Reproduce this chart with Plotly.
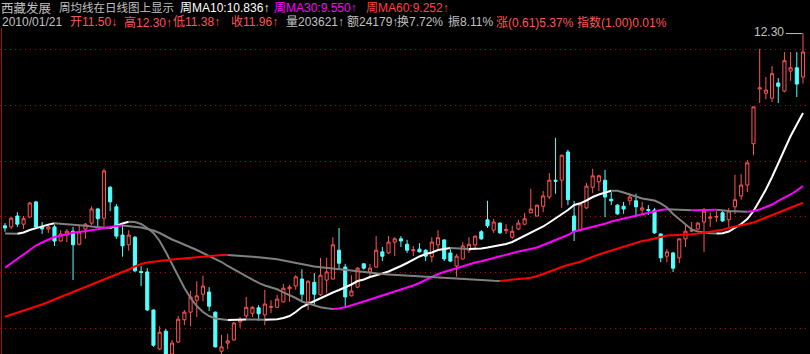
import plotly.graph_objects as go

# ---------------- data (daily candles, 130 sessions up to 2010/01/21) ----------------
opens = [8.76, 8.74, 8.94, 8.79, 8.92, 9.20, 8.74, 8.70, 8.74, 8.48,
         8.59, 8.66, 8.42, 8.70, 8.81, 9.07, 8.90, 9.47, 9.11, 8.59,
         8.41, 8.55, 7.92, 7.91, 7.21, 6.49, 6.82, 6.40, 6.62, 7.03,
         7.17, 7.39, 7.50, 7.54, 7.17, 6.45, 6.60, 6.66, 6.99, 7.10,
         7.15, 7.25, 7.12, 7.26, 7.26, 7.36, 7.60, 7.65, 7.78, 7.36,
         7.72, 7.49, 7.76, 7.78, 8.31, 8.00, 7.47, 7.63, 8.06, 7.91,
         8.00, 8.28, 8.26, 8.46, 8.52, 8.42, 8.30, 8.33, 8.31, 8.19,
         8.41, 8.50, 8.26, 8.02, 8.15, 8.31, 8.41, 8.65, 8.87, 8.68,
         8.81, 8.67, 8.55, 8.70, 8.79, 9.00, 8.94, 9.12, 9.29, 9.60,
         9.60, 10.12, 8.94, 8.68, 9.09, 9.47, 9.57, 9.60, 9.25, 9.14,
         9.12, 9.22, 9.22, 9.05, 9.06, 9.05, 8.61, 8.20, 8.26, 8.17,
         8.52, 8.66, 8.70, 8.83, 8.90, 8.92, 9.00, 8.87, 9.11, 9.31,
         9.51, 10.27, 11.28, 11.20, 11.11, 11.39, 11.24, 11.61, 11.67, 11.50]
highs = [8.81, 8.92, 9.01, 8.94, 9.20, 9.22, 8.83, 8.79, 8.78, 8.68,
         8.70, 8.74, 8.78, 8.81, 9.12, 9.09, 9.81, 9.49, 9.16, 8.78,
         8.68, 8.57, 8.02, 7.98, 7.22, 6.91, 6.86, 6.66, 7.10, 7.21,
         7.56, 7.74, 7.84, 7.63, 7.18, 6.75, 6.77, 6.99, 7.08, 7.45,
         7.28, 7.30, 7.58, 7.39, 7.49, 7.69, 7.67, 7.85, 7.96, 7.75,
         7.89, 8.17, 8.17, 8.55, 8.72, 8.06, 7.85, 8.00, 8.07, 8.06,
         8.57, 8.37, 8.57, 8.55, 8.57, 8.50, 8.39, 8.44, 8.33, 8.55,
         8.68, 8.51, 8.33, 8.24, 8.46, 8.55, 8.58, 8.68, 9.22, 8.89,
         8.82, 8.79, 8.76, 8.87, 9.00, 9.44, 9.15, 9.40, 9.73, 10.38,
         10.07, 10.16, 9.22, 9.17, 9.55, 9.81, 9.70, 9.79, 9.38, 9.16,
         9.20, 9.35, 9.35, 9.20, 9.14, 9.09, 8.62, 8.33, 8.28, 8.53,
         8.79, 8.83, 8.83, 9.09, 9.01, 9.03, 9.05, 9.09, 9.70, 9.71,
         9.97, 10.95, 12.02, 11.50, 11.70, 11.48, 11.96, 11.96, 11.96, 12.30]
lows = [8.65, 8.70, 8.74, 8.70, 8.91, 8.70, 8.61, 8.63, 8.39, 8.47,
        8.46, 7.76, 8.40, 8.52, 8.77, 8.72, 8.74, 9.03, 8.52, 8.19,
        8.30, 7.91, 7.65, 7.19, 6.53, 6.47, 6.36, 6.38, 6.60, 6.93,
        6.91, 7.08, 7.37, 7.19, 6.52, 6.40, 6.49, 6.64, 6.88, 7.06,
        7.08, 7.01, 6.93, 7.15, 7.25, 7.35, 7.36, 7.58, 7.36, 7.21,
        7.30, 7.47, 7.52, 7.77, 7.95, 7.26, 7.46, 7.61, 7.95, 7.82,
        7.99, 8.11, 8.24, 8.20, 8.37, 8.26, 8.20, 8.27, 8.11, 8.09,
        8.31, 8.11, 8.09, 7.82, 8.14, 8.26, 8.31, 8.50, 8.72, 8.63,
        8.61, 8.61, 8.52, 8.68, 8.77, 8.99, 8.93, 9.01, 9.25, 9.35,
        9.09, 9.14, 8.48, 8.66, 9.07, 9.36, 9.40, 8.92, 9.14, 8.96,
        8.98, 9.14, 8.92, 8.96, 8.96, 8.61, 8.09, 8.09, 7.91, 8.07,
        8.37, 8.64, 8.69, 8.28, 8.74, 8.83, 8.83, 8.74, 8.98, 9.24,
        9.38, 10.06, 11.02, 11.09, 11.04, 11.02, 11.22, 11.43, 11.13, 11.38]
closes = [8.72, 8.90, 8.79, 8.89, 9.18, 8.74, 8.70, 8.74, 8.48, 8.61,
          8.66, 8.41, 8.65, 8.79, 9.07, 8.89, 9.77, 9.20, 8.57, 8.39,
          8.59, 7.93, 7.90, 7.21, 6.56, 6.80, 6.40, 6.60, 7.04, 7.17,
          7.45, 7.47, 7.65, 7.28, 6.53, 6.53, 6.64, 6.97, 7.04, 7.26,
          7.26, 7.14, 7.32, 7.27, 7.41, 7.61, 7.63, 7.82, 7.50, 7.74,
          7.50, 7.85, 7.91, 8.41, 8.07, 7.45, 7.56, 7.98, 7.98, 7.98,
          8.31, 8.20, 8.46, 8.52, 8.48, 8.31, 8.32, 8.28, 8.20, 8.46,
          8.54, 8.15, 8.11, 8.20, 8.39, 8.42, 8.57, 8.52, 8.76, 8.83,
          8.63, 8.69, 8.66, 8.81, 8.89, 9.07, 9.14, 9.31, 9.60, 9.58,
          10.06, 9.24, 8.66, 9.16, 9.49, 9.68, 9.68, 9.29, 9.22, 8.98,
          9.07, 9.29, 9.11, 9.09, 9.04, 8.63, 8.17, 8.28, 7.98, 8.52,
          8.66, 8.68, 8.81, 9.03, 8.92, 8.93, 8.85, 9.03, 9.24, 9.51,
          9.92, 10.95, 11.30, 11.26, 11.56, 11.33, 11.80, 11.67, 11.37, 11.96]

# weekly moving averages shown on the daily chart
ma10 = [8.616, 8.614, 8.612, 8.636, 8.682, 8.719, 8.751, 8.782, 8.806, 8.800,
        8.793, 8.784, 8.775, 8.762, 8.747, 8.734, 8.719, 8.716, 8.765, 8.802,
        8.835, 8.830, 8.793, 8.719, 8.627, 8.480, 8.277, 8.057, 7.835, 7.614,
        7.430, 7.283, 7.172, 7.099, 7.053, 7.034, 7.025, 7.029, 7.033, 7.036,
        7.034, 7.031, 7.029, 7.033, 7.038, 7.062, 7.099, 7.172, 7.264, 7.320,
        7.375, 7.421, 7.486, 7.532, 7.577, 7.624, 7.679, 7.743, 7.771, 7.817,
        7.845, 7.882, 7.918, 7.964, 8.020, 8.075, 8.139, 8.195, 8.241, 8.268,
        8.314, 8.333, 8.351, 8.346, 8.340, 8.333, 8.336, 8.342, 8.360, 8.379,
        8.397, 8.425, 8.462, 8.517, 8.572, 8.627, 8.692, 8.747, 8.821, 8.894,
        8.977, 9.051, 9.143, 9.174, 9.226, 9.290, 9.336, 9.377, 9.406, 9.403,
        9.373, 9.336, 9.299, 9.263, 9.244, 9.226, 9.174, 9.097, 8.977, 8.876,
        8.775, 8.692, 8.655, 8.636, 8.624, 8.620, 8.624, 8.655, 8.719, 8.793,
        8.885, 9.032, 9.226, 9.428, 9.658, 9.907, 10.156, 10.413, 10.625, 10.836]
ma30 = [7.988, 8.075, 8.149, 8.232, 8.314, 8.397, 8.452, 8.508, 8.554, 8.578,
        8.609, 8.633, 8.646, 8.659, 8.677, 8.696, 8.719, 8.743, 8.756, 8.765,
        8.756, 8.743, 8.729, 8.701, 8.673, 8.627, 8.563, 8.508, 8.462, 8.416,
        8.370, 8.314, 8.259, 8.204, 8.149, 8.093, 8.020, 7.955, 7.891, 7.826,
        7.762, 7.707, 7.661, 7.629, 7.591, 7.535, 7.486, 7.430, 7.366, 7.329,
        7.287, 7.259, 7.241, 7.228, 7.237, 7.261, 7.292, 7.329, 7.366, 7.402,
        7.439, 7.476, 7.504, 7.541, 7.577, 7.611, 7.661, 7.707, 7.762, 7.817,
        7.872, 7.909, 7.946, 7.983, 8.020, 8.057, 8.084, 8.108, 8.139, 8.176,
        8.204, 8.231, 8.259, 8.287, 8.309, 8.329, 8.360, 8.406, 8.452, 8.508,
        8.554, 8.590, 8.655, 8.682, 8.710, 8.743, 8.771, 8.799, 8.839, 8.867,
        8.894, 8.922, 8.950, 8.977, 9.005, 9.032, 9.051, 9.064, 9.058, 9.055,
        9.051, 9.047, 9.051, 9.053, 9.055, 9.057, 9.042, 9.032, 9.027, 9.023,
        9.020, 9.032, 9.060, 9.101, 9.152, 9.217, 9.272, 9.336, 9.410, 9.493]
ma60 = [7.086, 7.126, 7.163, 7.204, 7.237, 7.274, 7.311, 7.357, 7.403, 7.449,
        7.486, 7.532, 7.577, 7.624, 7.679, 7.725, 7.771, 7.817, 7.863, 7.909,
        7.955, 8.010, 8.057, 8.084, 8.102, 8.115, 8.126, 8.137, 8.148, 8.158,
        8.167, 8.180, 8.193, 8.204, 8.213, 8.220, 8.222, 8.217, 8.211, 8.200,
        8.189, 8.180, 8.171, 8.160, 8.145, 8.121, 8.099, 8.075, 8.047, 8.025,
        8.010, 7.998, 7.983, 7.974, 7.964, 7.951, 7.937, 7.924, 7.909, 7.896,
        7.885, 7.872, 7.865, 7.858, 7.850, 7.841, 7.832, 7.823, 7.817, 7.812,
        7.804, 7.799, 7.791, 7.784, 7.777, 7.768, 7.758, 7.751, 7.749, 7.747,
        7.745, 7.753, 7.762, 7.775, 7.790, 7.804, 7.830, 7.872, 7.918, 7.964,
        8.001, 8.038, 8.065, 8.099, 8.143, 8.191, 8.232, 8.268, 8.305, 8.338,
        8.375, 8.416, 8.452, 8.480, 8.498, 8.526, 8.559, 8.581, 8.587, 8.590,
        8.598, 8.605, 8.618, 8.633, 8.649, 8.664, 8.688, 8.719, 8.747, 8.771,
        8.793, 8.821, 8.867, 8.913, 8.959, 9.005, 9.051, 9.097, 9.143, 9.185]

grid_levels = [12.006, 10.975, 9.944, 8.931, 7.900, 6.868]

stock_name = "西藏发展"
title_text = "周均线在日线图上显示"
ma_labels = ["周MA10:10.836↑", "周MA30:9.550↑", "周MA60:9.252↑"]
date_text = "2010/01/21"
price_labels = ["开11.50↓", "高12.30↑", "低11.38↑", "收11.96↑"]
info_gray = ["量203621↑", "额24179↑", "换7.72%", "振8.11%"]
info_red = ["涨(0.61)5.37%", "指数(1.00)0.01%"]

# ---------------- styles ----------------
UP = "#FF5454"
DN = "#54FFFF"
GRAY = "#808080"
TXT = "#C0C0C0"
W, H = 810, 354
FONT = "Liberation Sans, Noto Sans CJK SC, sans-serif"

n = len(opens)
xs = list(range(n))
slot = 6.186
x_range = [-5 / slot, (W - 5) / slot]
y_range = [6.399, 12.918]

fig = go.Figure()

fig.add_trace(go.Candlestick(
    x=xs, open=opens, high=highs, low=lows, close=closes,
    increasing=dict(line=dict(color=UP, width=1), fillcolor="#000000"),
    decreasing=dict(line=dict(color=DN, width=1), fillcolor=DN),
    whiskerwidth=0, hoverinfo="skip", showlegend=False,
))


def add_ma(vals, color):
    m = len(vals)
    cols = [color if vals[j] >= vals[j - 1] else GRAY for j in range(1, m)]
    j = 1
    while j < m:
        c = cols[j - 1]
        k = j
        while k + 1 < m and cols[k] == c:
            k += 1
        fig.add_trace(go.Scatter(
            x=list(range(j - 1, k + 1)), y=vals[j - 1:k + 1], mode="lines",
            line=dict(color=c, width=2), hoverinfo="skip", showlegend=False))
        j = k + 1


add_ma(ma10, "#FFFFFF")
add_ma(ma30, "#FF00FF")
add_ma(ma60, "#FF0000")

shapes = []
for g in grid_levels:
    shapes.append(dict(type="line", xref="paper", yref="y", x0=0, x1=1, y0=g, y1=g,
                       line=dict(color="#C00000", width=1, dash="1px,4px"), layer="below"))
shapes.append(dict(type="line", xref="paper", yref="paper", x0=1.5 / W, x1=1.5 / W,
                   y0=0, y1=1 - 28 / H, line=dict(color="#A01010", width=1)))

peak = max(highs)
ip = highs.index(peak)
shapes.append(dict(type="line", xref="x", yref="y", x0=ip - 2.75, x1=ip - 0.1,
                   y0=peak, y1=peak, line=dict(color=TXT, width=1)))

ann = []


def txt(s, px, top, color, size=12):
    ann.append(dict(text=s, xref="paper", yref="paper", x=px / W, y=1 - top / H,
                    xanchor="left", yanchor="top", showarrow=False, borderpad=0,
                    font=dict(family=FONT, size=size, color=color)))


L1, L2 = 0, 13.6
# header line 1
txt(stock_name, 0, L1, TXT, 12.5)
txt(title_text, 58, L1, TXT, 11.5)
txt(ma_labels[0], 179, L1, "#FFFFFF")
txt(ma_labels[1], 273, L1, "#FF00FF")
txt(ma_labels[2], 365, L1, "#FF4040")

# header line 2
txt(date_text, 1, L2, TXT)
txt(price_labels[0], 69, L2, UP)
txt(price_labels[1], 123, L2, UP)
txt(price_labels[2], 172, L2, UP)
txt(price_labels[3], 230, L2, UP)
txt(info_gray[0], 285, L2, TXT)
txt(info_gray[1], 346, L2, TXT)
txt(info_gray[2], 396, L2, TXT)
txt(info_gray[3], 447, L2, TXT)
txt(info_red[0], 495, L2, UP)
txt(info_red[1], 576, L2, UP)

ann.append(dict(text=f"{peak:.2f}", xref="x", yref="y", x=ip - 2.9, y=peak + 0.03,
                xanchor="right", yanchor="middle", showarrow=False, borderpad=0,
                font=dict(family=FONT, size=12, color=TXT)))

fig.update_layout(
    width=W, height=H, margin=dict(l=0, r=0, t=0, b=0),
    paper_bgcolor="#000000", plot_bgcolor="#000000",
    xaxis=dict(range=x_range, visible=False, rangeslider=dict(visible=False), fixedrange=True),
    yaxis=dict(range=y_range, visible=False, fixedrange=True),
    showlegend=False, hovermode=False, boxgap=0.28,
    shapes=shapes, annotations=ann,
)

fig.write_html("out.html", config={"displayModeBar": False})
